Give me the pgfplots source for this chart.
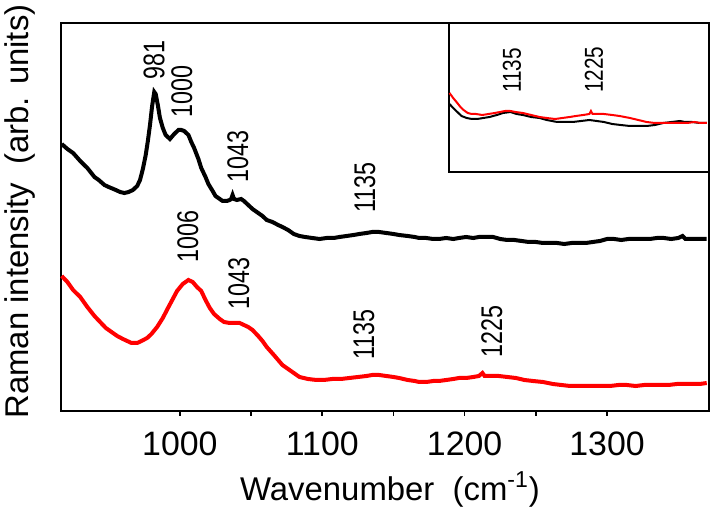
\documentclass[border=0pt]{standalone}
\usepackage{fontspec}
\setmainfont{Liberation Sans}
\usepackage{graphicx}
\usepackage{pgfplots}
\pgfplotsset{compat=1.18}

\pgfplotstableread{
x y
917 267
921 262
925 258
930 250
935 243
940 234
943 231
947 226
950 224
955 221
958 219
961 218
964 219
967 221
970 225
972 231
974 242
976 256
977.5 270
979 286
980.5 305
982 319
983 317
984.5 306
986 293
988 283
990 276
993 272
996 277
999 281
1001 281
1003 280
1006 276
1008 269
1010 263
1013 252
1015 243
1018 234
1020 227
1023 220
1025 215
1028 212
1030 210
1033 210
1035 211
1036 212
1037 216
1038 212
1040 211
1043 212
1045 210
1048 206
1051 202
1055 198
1058 195
1061 191
1065 189
1069 186
1072 184
1076 181
1080 177
1084 175
1088 174
1093 173
1098 172
1103 173
1108 173
1112 174
1117 175
1122 176
1126 177
1131 178
1135 179
1140 179
1145 178
1150 177
1154 176
1160 175
1165 174
1168 173
1173 173
1178 172
1182 172
1187 173
1192 172
1196 173
1201 174
1206 173
1210 174
1215 174
1220 174
1225 172
1230 171
1235 171
1240 170
1245 169
1250 169
1255 168
1260 168
1265 168
1270 167
1275 168
1280 168
1285 168
1290 169
1295 170
1300 172
1305 172
1310 171
1315 172
1320 172
1325 172
1330 172
1335 173
1340 173
1345 172
1350 173
1353 175
1355 172
1360 172
1365 172
1370 172
}\blackmain

\pgfplotstableread{
x y
917 135
921 129
925 121
930 114
935 104
940 95
944 89
948 83
952 79
956 75
960 72
963 70
966 68
970 68
973 70
977 73
980 77
984 84
988 93
992 104
995 112
998 120
1002 127
1006 131
1009 129
1012 124
1015 120
1018 111
1021 103
1024 97
1028 92
1031 89
1035 88
1039 88
1042 88
1045 86
1048 84
1051 81
1055 75
1058 70
1061 64
1066 56
1072 46
1078 40
1084 34
1090 32
1096 31
1101 31
1107 32
1113 32
1119 33
1125 34
1131 35
1135 36
1140 36
1145 35
1150 34
1154 33
1160 31
1165 30
1168 29
1173 29
1178 30
1182 30
1187 31
1192 32
1196 33
1201 33
1206 34
1210 35
1212.5 38
1214 35
1218 35
1224 35
1230 34
1236 33
1242 31
1248 30
1255 29
1262 27
1268 26
1274 25
1281 25
1288 25
1295 25
1302 25
1308 26
1314 26
1320 25
1326 26
1332 26
1337 26
1343 26
1349 27
1355 27
1360 27
1365 27
1370 28
}\redmain

\pgfplotstableread{
x y
1076.5 79
1080 74
1084 69
1087 65
1090 62
1094 59
1098 58
1102 58
1108 57
1114 58
1120 59
1125 60
1130 61
1135 61
1140 60
1147 59
1155 57
1163 55
1170 54
1178 53
1185 54
1192 55
1198 56
1205 57
1211 58
1212.5 61
1214 58
1218 58
1225 58
1233 57
1240 56
1250 54
1258 52
1266 50
1274 49
1282 49
1290 49
1298 49
1305 49
1312 50
1318 49
1324 49
}\redinset

\pgfplotstableread{
x y
1076.5 68
1080 64
1084 60
1088 56
1093 54
1098 53
1103 53
1109 54
1115 55
1122 57
1128 59
1135 60
1141 58
1147 57
1155 55
1163 54
1170 52
1180 50
1188 50
1195 50
1203 51
1211 52
1218 51
1225 50
1233 48
1241 47
1250 46
1258 46
1266 46
1274 47
1282 49
1290 50
1298 51
1303 50
1310 50
1317 49
1324 49
}\blackinset

\begin{document}
\begin{tikzpicture}[
  lbl/.style={rotate=90, inner sep=0pt, anchor=west, font=\fontsize{15}{17}\selectfont},
  ilbl/.style={rotate=90, inner sep=0pt, anchor=west, font=\fontsize{13}{15}\selectfont}]
\begin{axis}[name=main, scale only axis, width=324bp, height=194bp,
  xmin=916.5, xmax=1371.6, ymin=0, ymax=388, clip=false,
  xtick={1000,1100,1200,1300}, minor x tick num=1, ytick=\empty,
  xtick pos=left, tick align=outside,
  major tick length=2.4bp, minor tick length=2.4bp,
  every tick/.style={black, line width=0.8bp},
  axis line style={line width=1bp},
  /pgf/number format/assume math mode=true,
  /pgf/number format/1000 sep={},
  tick label style={font=\fontsize{17}{20}\selectfont},
  xticklabel style={anchor=base, yshift=-19.8bp},
  xlabel={Wavenumber\ \ (cm\textsuperscript{-1})},
  ylabel={Raman intensity\ \ (arb. units)},
  label style={font=\fontsize{16.5}{19}\selectfont},
  xlabel style={at={(axis description cs:0.5077,-0.2294)}, anchor=base},
  ylabel style={at={(axis description cs:-0.0494,0.514)}, anchor=base},
]
\addplot[black, line width=2bp] table {\blackmain};
\addplot[red, line width=2bp] table {\redmain};
\node[lbl] at (axis cs:981.8,331) {\scalebox{0.78}[1]{981}};
\node[lbl] at (axis cs:1001.4,293) {\scalebox{0.78}[1]{1000}};
\node[lbl] at (axis cs:1040.7,228) {\scalebox{0.78}[1]{1043}};
\node[lbl] at (axis cs:1129.8,198) {\scalebox{0.78}[1]{1135}};
\node[lbl] at (axis cs:1005.6,148) {\scalebox{0.78}[1]{1006}};
\node[lbl] at (axis cs:1041.4,101) {\scalebox{0.78}[1]{1043}};
\node[lbl] at (axis cs:1129.1,51) {\scalebox{0.78}[1]{1135}};
\node[lbl] at (axis cs:1219,53) {\scalebox{0.78}[1]{1225}};
\end{axis}
\begin{axis}[name=inset, at={(main.north east)}, anchor=north east,
  scale only axis, width=130bp, height=74.5bp,
  xmin=1076, xmax=1326, ymin=0, ymax=149, clip=false,
  ticks=none, axis line style={line width=1bp},
  axis background/.style={fill=white}]
\addplot[black, line width=1bp] table {\blackinset};
\addplot[red, line width=1bp] table {\redinset};
\node[ilbl] at (axis cs:1136.6,79) {\scalebox{0.8}[1]{1135}};
\node[ilbl] at (axis cs:1215.4,79) {\scalebox{0.8}[1]{1225}};
\end{axis}
\pgfresetboundingbox
\path[use as bounding box] ([xshift=-30.5bp,yshift=-51.5bp]main.south west) rectangle ([xshift=5.5bp,yshift=11.5bp]main.north east);
\end{tikzpicture}
\end{document}
